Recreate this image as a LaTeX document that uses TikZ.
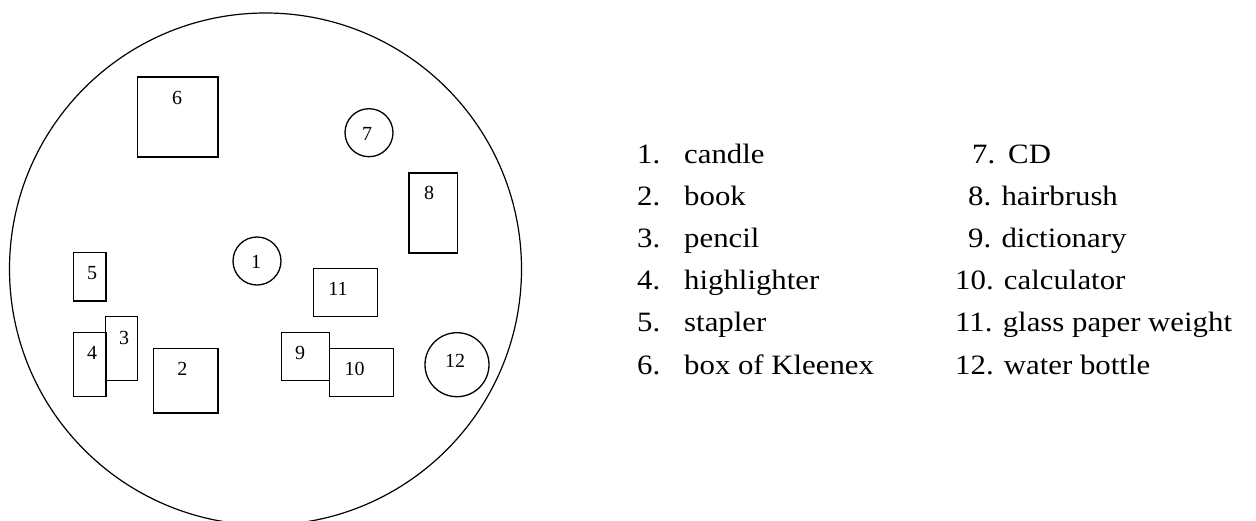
\documentclass[tikz,border=0pt]{standalone}
\usepackage{fontspec}
\setmainfont{Liberation Serif}
\newfontfamily\legendfont[FakeStretch=1.1]{Liberation Serif}
\begin{document}
\begin{tikzpicture}[x=1pt,y=-1pt,
  obj/.style={draw,line width=1.3pt,fill=white,inner sep=0pt},
  box/.style={obj,rectangle},
  disc/.style={obj,circle},
  num/.style={font=\fontsize{20}{23}\selectfont,inner sep=0pt},
  item/.style={font=\legendfont\fontsize{28}{32}\selectfont,anchor=base west,inner sep=0pt}]
\useasboundingbox (0,0) rectangle (1256,520);
\begin{scope}
  \clip (0,0) rectangle (1256,520);
  \node[disc, line width=1.2pt, minimum size=512pt] (table) at (265.5,269) {};
\end{scope}
% rectangles
\node[box, minimum width=80.7pt, minimum height=80pt] (b6) at (177.65,117) {};
\node[box, minimum width=48.7pt, minimum height=80pt] (b8) at (433.35,213) {};
\node[box, minimum width=32.7pt, minimum height=48.3pt] (b5) at (89.65,276.85) {};
\node[box, minimum width=64.4pt, minimum height=48pt] (b11) at (345.5,292.7) {};
\node[box, minimum width=32pt, minimum height=63.6pt] (b3) at (121.7,348.5) {};
\node[box, minimum width=32.7pt, minimum height=64pt] (b4) at (89.65,364.7) {};
\node[box, minimum width=64.7pt, minimum height=64.3pt] (b2) at (185.65,380.85) {};
\node[box, minimum width=48pt, minimum height=47.6pt] (b9) at (305.7,356.5) {};
\node[box, minimum width=64.4pt, minimum height=48pt] (b10) at (361.5,372.7) {};
% circles
\node[disc, minimum size=48pt] (c7) at (369,132.7) {};
\node[disc, minimum size=48pt] (c1) at (257,261) {};
\node[disc, minimum size=64pt] (c12) at (457,364.7) {};
% labels
\node[num] (n6) at (177,98) {6};
\node[num] (n8) at (429,193) {8};
\node[num] (n5) at (92,273) {5};
\node[num] (n11) at (338,289) {11};
\node[num] (n3) at (124,337.7) {3};
\node[num] (n4) at (92,353) {4};
\node[num] (n2) at (182.3,369) {2};
\node[num] (n9) at (300,353) {9};
\node[num] (n10) at (354.7,369) {10};
\node[num] (n7) at (367,134) {7};
\node[num] (n1) at (256,262) {1};
\node[num] (n12) at (455,361) {12};
% legend, left column
\node[item] (k1) at (637,163) {1.};
\node[item] (t1) at (684,163) {candle};
\node[item] (k2) at (637,205.2) {2.};
\node[item] (t2) at (684,205.2) {book};
\node[item] (k3) at (637,247.4) {3.};
\node[item] (t3) at (684,247.4) {pencil};
\node[item] (k4) at (637,289.6) {4.};
\node[item] (t4) at (684,289.6) {highlighter};
\node[item] (k5) at (637,331.8) {5.};
\node[item] (t5) at (684,331.8) {stapler};
\node[item] (k6) at (637,374) {6.};
\node[item] (t6) at (684,374) {box of Kleenex};
% legend, right column
\node[item] (k7) at (972,163) {7.};
\node[item] (t7) at (1008,163) {CD};
\node[item] (t8) at (968,205.2) {8. hairbrush};
\node[item] (t9) at (968,247.4) {9. dictionary};
\node[item] (t10) at (955,289.6) {10. calculator};
\node[item] (t11) at (955,331.8) {11. glass paper weight};
\node[item] (t12) at (955,374) {12. water bottle};
\end{tikzpicture}
\end{document}
